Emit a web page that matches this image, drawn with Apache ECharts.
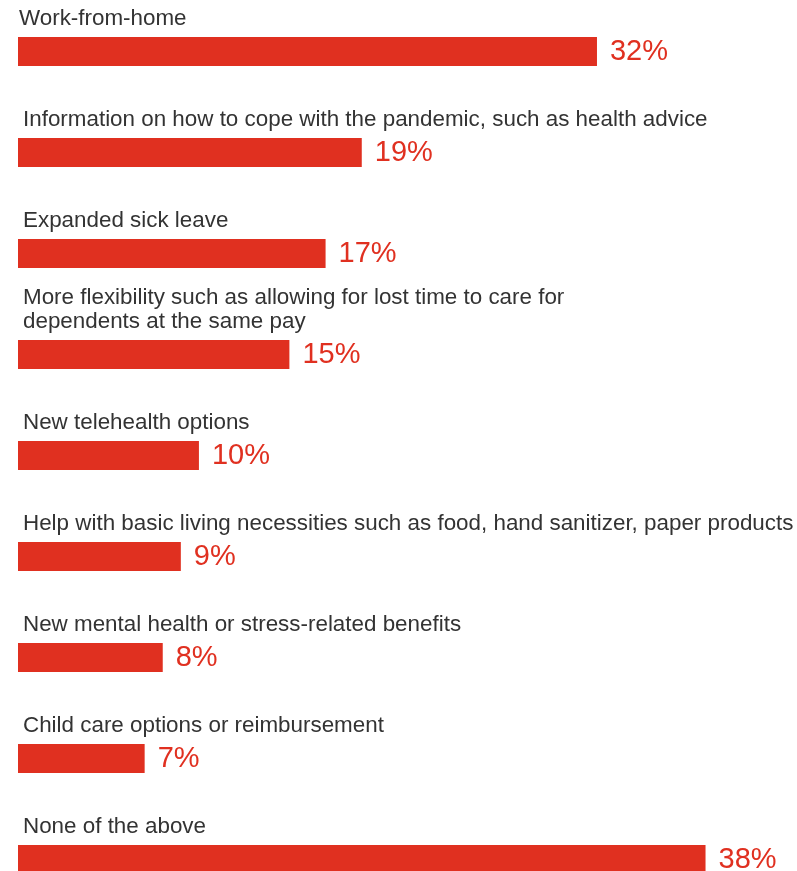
<!DOCTYPE html>
<html><head><meta charset="utf-8">
<script src="https://cdn.jsdelivr.net/npm/echarts@6/dist/echarts.min.js"></script>
<style>html,body{margin:0;padding:0;background:#fff}#c{width:797px;height:871px}</style>
</head><body><div id="c"></div>
<script>
const categories = [
  "Work-from-home",
  "Information on how to cope with the pandemic, such as health advice",
  "Expanded sick leave",
  "More flexibility such as allowing for lost time to care for\ndependents at the same pay",
  "New telehealth options",
  "Help with basic living necessities such as food, hand sanitizer, paper products",
  "New mental health or stress-related benefits",
  "Child care options or reimbursement",
  "None of the above"
];
const values = [32, 19, 17, 15, 10, 9, 8, 7, 38];

const labelDx = [1, 5, 5, 5, 5, 5, 5, 5, 5];
const RED = '#e03020';
const FONT = 'Liberation Sans, Arial, Helvetica, sans-serif';
const chart = echarts.init(document.getElementById('c'));
chart.setOption({
  animation: false,
  grid: { left: 18, width: 778, top: 1, height: 909, outerBoundsMode: 'none' },
  xAxis: { type: 'value', min: 0, max: 43, show: false },
  yAxis: { type: 'category', data: categories, inverse: true, show: false },
  series: [
    {
      type: 'bar', data: values, barWidth: 29,
      itemStyle: { color: RED },
      label: {
        show: true, position: 'right', distance: 13,
        formatter: p => p.value + '%',
        color: RED, fontSize: 29, fontFamily: FONT
      }
    },
    {
      type: 'bar', data: values, barWidth: 29, barGap: '-100%',
      itemStyle: { color: 'rgba(0,0,0,0)' },
      silent: true,
      label: {
        show: true, verticalAlign: 'bottom', align: 'left',
        position: [5, -6],
        formatter: p => categories[p.dataIndex],
        color: '#333', fontSize: 22.4, lineHeight: 24,
        fontFamily: FONT
      },
      labelLayout: p => ({ dx: labelDx[p.dataIndex] - 5 })
    }
  ]
});
</script></body></html>
